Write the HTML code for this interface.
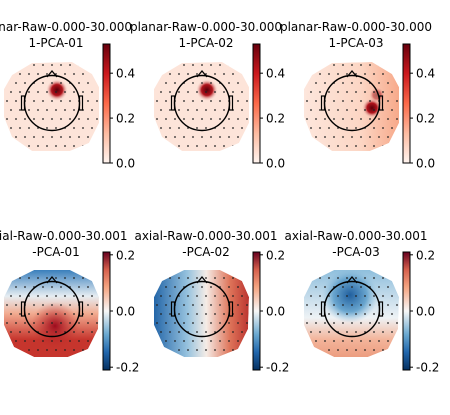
<!DOCTYPE html>
<html><head><meta charset="utf-8"><style>
html,body{margin:0;padding:0;background:#fff;width:450px;height:415px;overflow:hidden}
svg text{font-family:"DejaVu Sans","Liberation Sans",sans-serif;font-size:12px;fill:#000}
</style></head><body>
<svg id="fig" width="450" height="415" xmlns="http://www.w3.org/2000/svg">
<defs>
<linearGradient id="reds" x1="0" y1="1" x2="0" y2="0">
<stop offset="0" stop-color="#fff5f0"/><stop offset="0.25" stop-color="#fcbba1"/><stop offset="0.5" stop-color="#fb6a4a"/><stop offset="0.75" stop-color="#cb181d"/><stop offset="1" stop-color="#67000d"/></linearGradient>
<linearGradient id="rdbu" x1="0" y1="1" x2="0" y2="0">
<stop offset="0" stop-color="#053061"/><stop offset="0.15" stop-color="#2166ac"/><stop offset="0.3" stop-color="#6aa8d0"/><stop offset="0.5" stop-color="#f7f7f7"/><stop offset="0.7" stop-color="#f4a582"/><stop offset="0.85" stop-color="#d6604d"/><stop offset="1" stop-color="#67001f"/></linearGradient>
<radialGradient id="spotR"><stop offset="0" stop-color="#5a000a"/><stop offset="0.5" stop-color="#b0131b"/><stop offset="1" stop-color="#fce3d8" stop-opacity="0"/></radialGradient>
<linearGradient id="b1" x1="0" y1="0" x2="0" y2="1"><stop offset="0" stop-color="#3a7fbc"/><stop offset="0.3" stop-color="#e6edf2"/><stop offset="0.5" stop-color="#f2ab90"/><stop offset="0.8" stop-color="#c6352d"/></linearGradient>
<radialGradient id="b1s" cx="0.5" cy="0.5"><stop offset="0" stop-color="#9e0c1e"/><stop offset="1" stop-color="#c6352d" stop-opacity="0"/></radialGradient>
<linearGradient id="b2" x1="0" y1="0" x2="1" y2="0"><stop offset="0" stop-color="#2466a8"/><stop offset="0.35" stop-color="#96c2de"/><stop offset="0.55" stop-color="#f5ece6"/><stop offset="0.8" stop-color="#de7459"/><stop offset="1" stop-color="#bb3430"/></linearGradient>
<linearGradient id="b3" x1="0" y1="0" x2="0" y2="1"><stop offset="0" stop-color="#8fbfdd"/><stop offset="0.55" stop-color="#eef2f5"/><stop offset="0.8" stop-color="#f3b49a"/><stop offset="1" stop-color="#ec9d80"/></linearGradient>
<radialGradient id="b3s"><stop offset="0" stop-color="#21609f"/><stop offset="0.6" stop-color="#6aa6cf"/><stop offset="1" stop-color="#9cc7e1" stop-opacity="0"/></radialGradient>
<linearGradient id="t3" x1="0" y1="0" x2="1" y2="0"><stop offset="0" stop-color="#fde6dc"/><stop offset="0.6" stop-color="#fcd6c4"/><stop offset="1" stop-color="#f7a98a"/></linearGradient>
</defs>
<g id="panels"></g>
</svg>
<script>
const topTicks=[0.0,0.2,0.4];
const topRange=[0,0.53];
const botTicks=[-0.2,0.0,0.2];
const botRange=[-0.21,0.21];
const titlesTop=["planar-Raw-0.000-30.000","1-PCA-01","1-PCA-02","1-PCA-03"];
const titlesBot=["axial-Raw-0.000-30.001","-PCA-01","-PCA-02","-PCA-03"];
const NS="http://www.w3.org/2000/svg";
const root=document.getElementById('panels');
function mk(t,a,p){const e=document.createElementNS(NS,t);for(const k in a)e.setAttribute(k,a[k]);(p||root).appendChild(e);return e;}
const outlineTop=[[-20,-42],[20,-43],[40,-31],[47,-18],[47,18],[37,38],[18,46],[-20,46],[-40,32],[-48,12],[-48,-16],[-40,-30]];
const outlineBot=[[-18,-39],[18,-39],[40,-28],[47,-12],[46,20],[36,40],[16,48],[-18,48],[-38,38],[-48,16],[-48,-12],[-40,-28]];
function panel(i,row){
  const cx=52+150*i, cy=row?309:105;
  const g=mk('g',{});
  
  
  const ol=row?outlineBot:outlineTop;
  const pts=ol.map(p=>(cx+p[0])+','+(cy+p[1])).join(' ');
  const cid='c'+row+i;
  const cp=mk('clipPath',{id:cid},g);mk('polygon',{points:pts},cp);
  const f=mk('g',{'clip-path':'url(#'+cid+')'},g);
  if(!row){
    mk('polygon',{points:pts,fill:i==2?'url(#t3)':'#fde4d9'},f);
    if(i<2) mk('circle',{cx:cx+5,cy:cy-15,r:11,fill:'url(#spotR)'},f);
    else {mk('circle',{cx:cx+20,cy:cy+3,r:10,fill:'url(#spotR)'},f);mk('circle',{cx:cx+25,cy:cy-10,r:8,fill:'url(#spotR)',opacity:0.5},f);}
  } else {
    if(i==0){mk('polygon',{points:pts,fill:'url(#b1)'},f);mk('circle',{cx:cx+3,cy:cy+17,r:24,fill:'url(#b1s)'},f);}
    if(i==1){mk('polygon',{points:pts,fill:'url(#b2)'},f);}
    if(i==2){mk('polygon',{points:pts,fill:'url(#b3)'},f);mk('circle',{cx:cx-2,cy:cy-14,r:28,fill:'url(#b3s)'},f);}
  }
  for(let y=-40;y<=46;y+=9)for(let x=-45;x<=45;x+=9){
    const xx=x+((Math.round(y/9))%2?4:0);
    if(Math.abs(xx)+Math.abs(y)*0.6>56)continue;
    mk('circle',{cx:cx+xx,cy:cy+y,r:0.9,fill:'#222'},f);
  }
  const hy=row?cy:cy-2;
  const head=mk('circle',{cx:cx,cy:hy,r:27.5,fill:'none',stroke:'#000','stroke-width':1.4},g);
  
  mk('polyline',{points:`${cx-5},${hy-26} ${cx},${hy-32} ${cx+5},${hy-26}`,fill:'none',stroke:'#000','stroke-width':1.3},g);
  mk('rect',{x:cx-30.5,y:hy-7,width:3,height:14,fill:'none',stroke:'#000','stroke-width':1.2},g);
  mk('rect',{x:cx+27.5,y:hy-7,width:3,height:14,fill:'none',stroke:'#000','stroke-width':1.2},g);
  const bx=103+150*i, by0=row?252:44, by1=row?370:163;
  const cb=mk('rect',{x:bx,y:by0,width:7,height:by1-by0,fill:row?'url(#rdbu)':'url(#reds)',stroke:'#000','stroke-width':1},g);
  
  const ticks=row?botTicks:topTicks, rng=row?botRange:topRange;
  ticks.forEach(v=>{
    const y=by1-(v-rng[0])/(rng[1]-rng[0])*(by1-by0);
    mk('line',{x1:bx+7,x2:bx+10,y1:y,y2:y,stroke:'#000'},g);
    const t=mk('text',{x:bx+13,y:y+4.5},g);t.textContent=v.toFixed(1);
    
    
  });
  const tt=row?titlesBot:titlesTop;
  const t1=mk('text',{x:cx+4,y:row?240:31,'text-anchor':'middle'},g);t1.textContent=tt[0];
  
  
  const t2=mk('text',{x:cx+4,y:row?256:47,'text-anchor':'middle'},g);t2.textContent=tt[i+1];
  
  
  root.appendChild(g);
}
for(let r=0;r<2;r++)for(let i=0;i<3;i++)panel(i,r);
</script>
</body></html>
